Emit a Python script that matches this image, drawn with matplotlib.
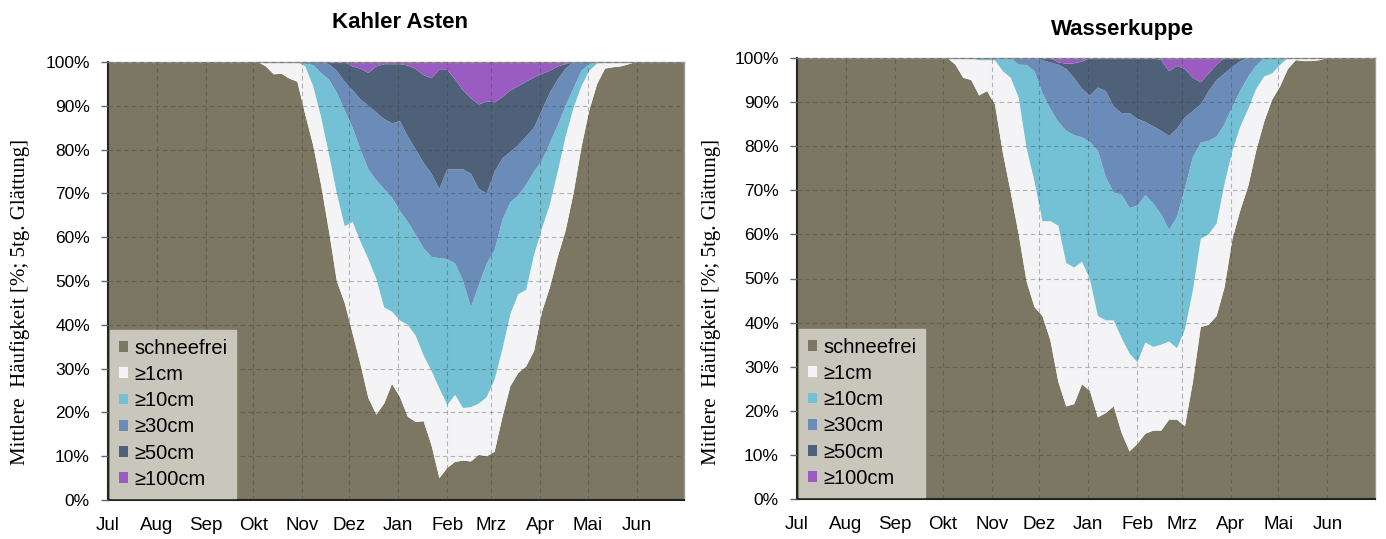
import numpy as np
import matplotlib
matplotlib.use("Agg")
import matplotlib.pyplot as plt

# ---------------- data ----------------
# day of hydrological year (0 = 1 July)
tage = [0, 80, 85, 90, 95, 100, 105, 110, 115, 120,
        125, 130, 135, 140, 145, 150, 155, 160, 165, 170,
        175, 180, 185, 190, 195, 200, 205, 210, 215, 220,
        225, 230, 235, 240, 245, 250, 255, 260, 265, 270,
        275, 280, 285, 290, 295, 300, 305, 310, 315, 320,
        325, 330, 335, 340, 345, 365]

monate = ["Jul", "Aug", "Sep", "Okt", "Nov", "Dez", "Jan", "Feb", "Mrz", "Apr", "Mai", "Jun"]
monatsanfang = [0, 31, 62, 92, 123, 153, 184, 215, 243, 274, 304, 335]
kategorien = ["schneefrei", "\u22651cm", "\u226510cm", "\u226530cm", "\u226550cm", "\u2265100cm"]

# cumulative share [%] of days with snow depth below threshold (upper edge of each layer)
# Kahler Asten
ka_unter_1cm = [100, 100, 100, 100, 100, 99, 97.2, 97.3, 96.2, 95.5,
                88, 81, 72, 61.5, 50, 45, 38, 31, 23.3, 19.5,
                22, 26.5, 23.5, 19, 17.8, 18, 12.5, 5, 7.3, 8.7,
                9, 8.8, 10.3, 10, 11, 19, 26, 29, 30.5, 34,
                43, 48.5, 55.5, 61.5, 70, 80.5, 89, 95, 98.5, 98.8,
                99, 99.5, 100, 100, 100, 100]
ka_unter_10cm = [100, 100, 100, 100, 100, 100, 100, 100, 100, 100,
                 99, 94.5, 87.5, 79, 70, 62.5, 63.5, 59, 55, 50.5,
                 44, 43, 41, 40, 37.5, 33, 29.5, 25.5, 21.7, 24,
                 21, 21.2, 22, 23.5, 27.5, 34.5, 42.5, 47, 48, 56,
                 62, 67.5, 75, 83, 89.5, 94.5, 98, 99.7, 100, 100,
                 100, 100, 100, 100, 100, 100]
ka_unter_30cm = [100, 100, 100, 100, 100, 100, 100, 100, 100, 100,
                 99.6, 99.3, 97.5, 96, 93, 89, 85, 80, 75.5, 73,
                 71, 69, 66, 63.5, 60.5, 57.5, 55.5, 55.2, 55, 54,
                 50, 44, 49, 54, 57, 64, 68, 69.5, 72, 75,
                 77.5, 81.5, 85.5, 90, 94, 98, 99.5, 100, 100, 100,
                 100, 100, 100, 100, 100, 100]
ka_unter_50cm = [100, 100, 100, 100, 100, 100, 100, 100, 100, 100,
                 100, 100, 100, 99.5, 98, 95.5, 93.5, 91.5, 90, 88.5,
                 87, 86, 86.5, 83, 80, 77, 74.5, 71, 75.5, 75.5,
                 75.5, 74.5, 71, 70, 75, 78, 79.5, 81, 83, 85,
                 89, 93, 96, 98.5, 100, 100, 100, 100, 100, 100,
                 100, 100, 100, 100, 100, 100]
ka_unter_100cm = [100, 100, 100, 100, 100, 100, 100, 100, 100, 100,
                  100, 100, 100, 100, 100, 100, 99, 98.5, 97.5, 99,
                  99.5, 99.5, 99.5, 99.2, 98.4, 97, 96.3, 98.2, 98.2, 96,
                  93.5, 91.7, 90.3, 91, 90.8, 92, 93.5, 94.5, 95.5, 96.5,
                  97.3, 98, 99, 99.5, 100, 100, 100, 100, 100, 100,
                  100, 100, 100, 100, 100, 100]

# Wasserkuppe
wk_unter_1cm = [100, 100, 100, 100, 100, 98.5, 95.5, 95, 91.5, 92.5,
                89.5, 78.5, 69.5, 60, 49.3, 43.5, 41.5, 36, 26.6, 21,
                21.5, 26, 24.5, 18.5, 19.5, 21, 15, 10.8, 12.5, 14.8,
                15.5, 15.5, 18, 18, 16.5, 26.5, 39, 39.5, 41.5, 48,
                59, 65.5, 71, 79, 85.5, 90.5, 93.5, 97.5, 99.5, 99.3,
                99.3, 99.5, 100, 100, 100, 100]
wk_unter_10cm = [100, 100, 100, 100, 100, 100, 100, 100, 99.5, 99.5,
                 99.5, 97, 95.5, 91, 79.5, 72, 63, 63, 62, 53.5,
                 52.5, 53.8, 49.8, 41.5, 40.5, 40.5, 36.5, 33, 31, 35.5,
                 34.5, 35, 35.7, 34.2, 38.5, 47.3, 59, 60, 62.5, 71.5,
                 79, 84.5, 88.5, 93, 95.8, 96.5, 98.4, 100, 100, 100,
                 100, 100, 100, 100, 100, 100]
wk_unter_30cm = [100, 100, 100, 100, 100, 100, 100, 100, 100, 100,
                 100, 100, 100, 98.5, 98.4, 97, 92, 88.5, 85.5, 83.5,
                 82.5, 82, 81, 79, 73, 69.5, 69, 66, 66.5, 68.9,
                 67, 64.5, 61, 64, 70.5, 77.5, 80.8, 81.2, 82.2, 85,
                 89, 92.6, 95.8, 98.3, 100, 100, 100, 100, 100, 100,
                 100, 100, 100, 100, 100, 100]
wk_unter_50cm = [100, 100, 100, 100, 100, 100, 100, 100, 100, 100,
                 100, 100, 100, 100, 100, 100, 99.5, 99, 98.5, 97.5,
                 95.5, 93, 91.5, 93.3, 92.5, 89, 87.5, 87.5, 86.2, 85.5,
                 84.5, 83.5, 82.3, 84, 86.5, 88, 89.5, 92.5, 95, 96.5,
                 98, 99.3, 100, 100, 100, 100, 100, 100, 100, 100,
                 100, 100, 100, 100, 100, 100]
wk_unter_100cm = [100, 100, 100, 100, 100, 100, 100, 100, 100, 100,
                  100, 100, 100, 100, 100, 100, 100, 100, 99, 98.7,
                  98.8, 99.2, 100, 100, 100, 100, 100, 100, 100, 100,
                  100, 99.5, 97, 98.2, 97.5, 95.5, 94.5, 96.5, 98.5, 100,
                  100, 100, 100, 100, 100, 100, 100, 100, 100, 100,
                  100, 100, 100, 100, 100, 100]

# ---------------- style ----------------
farben = ["#7b7762", "#f4f4f6", "#74c1d5", "#6b8cb8", "#4f6079", "#9a5cc0"]
sans = ["Liberation Sans", "DejaVu Sans"]
serif = ["Liberation Serif", "DejaVu Serif"]
plt.rcParams["font.family"] = sans

fig = plt.figure(figsize=(13.86, 5.39), dpi=100)
W, H = 1386.0, 539.0


def panel(rect, kum, titel, titel_xy, ylab_x):
    ax = fig.add_axes(rect)
    x = np.array(tage, dtype=float)
    grenzen = np.vstack([np.zeros(len(tage))] + [np.array(k, dtype=float) for k in kum] +
                        [np.full(len(tage), 100.0)])
    schichten = np.diff(grenzen, axis=0)
    ax.stackplot(x, schichten, colors=farben, labels=kategorien, linewidth=0)
    ax.set_xlim(0, 365)
    ax.set_ylim(0, 100)
    ax.set_yticks(np.arange(0, 101, 10))
    ax.set_yticklabels([f"{v}%" for v in range(0, 101, 10)])
    ax.set_xticks(monatsanfang)
    ax.set_xticklabels(monate)
    ax.tick_params(axis="y", labelsize=12.5, length=5, width=1, pad=8, direction="out",
                   color="#666666")
    ax.tick_params(axis="x", labelsize=13.5, length=0, pad=12)
    ax.grid(True, ls=(0, (4, 3)), color="#3a3a3a", alpha=0.35, lw=0.8)
    ax.set_axisbelow(False)
    for s in ("top", "right"):
        ax.spines[s].set_color("#9a9a9a")
        ax.spines[s].set_linewidth(1.0)
    for s in ("left", "bottom"):
        ax.spines[s].set_color("#222222")
        ax.spines[s].set_linewidth(1.5)
    ax.legend(loc="lower left", bbox_to_anchor=(0.0, 0.0), borderaxespad=0.1,
              fontsize=14.5, frameon=True, fancybox=False, framealpha=1,
              facecolor="#c9c7bc", edgecolor="#c9c7bc", handlelength=0.45,
              handleheight=0.45, handletextpad=0.3, labelspacing=0.36,
              borderpad=0.45)
    fig.text(titel_xy[0] / W, 1 - titel_xy[1] / H, titel, ha="center", va="center",
             fontsize=16, fontweight="bold")
    fig.text(ylab_x / W, 1 - 302 / H, "Mittlere  H\u00e4ufigkeit [%; 5tg. Gl\u00e4ttung]",
             rotation=90, ha="center", va="center", fontsize=15, family=serif)
    return ax


panel([108 / W, 1 - 500 / H, (684 - 108) / W, (500 - 62) / H],
      [ka_unter_1cm, ka_unter_10cm, ka_unter_30cm, ka_unter_50cm, ka_unter_100cm],
      "Kahler Asten", (400, 22), 20)
panel([797 / W, 1 - 499 / H, (1375 - 797) / W, (499 - 58) / H],
      [wk_unter_1cm, wk_unter_10cm, wk_unter_30cm, wk_unter_50cm, wk_unter_100cm],
      "Wasserkuppe", (1123, 30), 711)

fig.savefig("out.png", dpi=100)
